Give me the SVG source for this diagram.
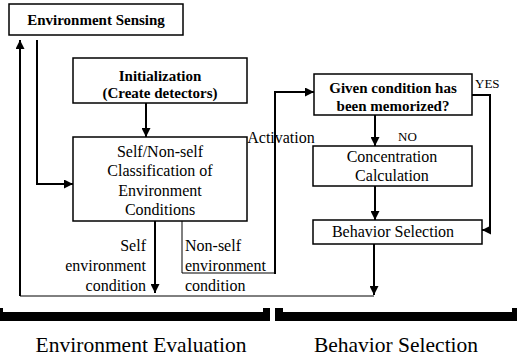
<svg xmlns="http://www.w3.org/2000/svg" width="517" height="360" viewBox="0 0 517 360">
<defs>
<marker id="ah" viewBox="0 0 10 10" refX="10" refY="5" markerWidth="9" markerHeight="9" markerUnits="userSpaceOnUse" orient="auto">
<path d="M0,0 L10,5 L0,10 z" fill="#000"/>
</marker>
</defs>
<style>
.box{fill:#fff;stroke:#000;stroke-width:1.5}
.t{font-family:"Liberation Serif","Times New Roman",serif;font-size:16px;fill:#000;text-anchor:middle}
.b{font-weight:bold;font-size:15px}
.s{font-size:13px;text-anchor:start}
.big{font-size:21.5px}
.ln{fill:none;stroke:#000;stroke-width:2}
.thin{fill:none;stroke:#000;stroke-width:1}
</style>
<rect width="517" height="360" fill="#fff"/>
<g id="connectors">
<path class="ln" d="M20,296 L20,40" marker-end="url(#ah)"/>
<path class="thin" d="M20,296 L374,296"/>
<path class="ln" d="M37,40 L37,184 L73,184" marker-end="url(#ah)"/>
<path class="ln" d="M146,103 L146,137" marker-end="url(#ah)"/>
<path class="ln" d="M155,221 L155,293" marker-end="url(#ah)"/>
<path class="thin" d="M182,221 L182,273 L275,273"/>
<path class="ln" d="M275,274 L275,92 L314,92" marker-end="url(#ah)"/>
<path class="ln" d="M472,95 L490,95 L490,230 L482,230" marker-end="url(#ah)"/>
<path class="ln" d="M375,115 L375,146" marker-end="url(#ah)"/>
<path class="ln" d="M375,186 L375,220" marker-end="url(#ah)"/>
<path class="ln" d="M374,244 L374,295" marker-end="url(#ah)"/>
</g>
<g id="sensing">
<rect class="box" x="9" y="4" width="174" height="31"/>
<text class="t b" x="96" y="25">Environment Sensing</text>
</g>
<g id="init">
<rect class="box" x="73" y="58" width="174" height="45"/>
<text class="t b" x="160" y="81">Initialization</text>
<text class="t b" x="160" y="98">(Create detectors)</text>
</g>
<g id="classify">
<rect class="box" x="73" y="137" width="174" height="84"/>
<text class="t" x="160" y="157">Self/Non-self</text>
<text class="t" x="160" y="176">Classification of</text>
<text class="t" x="160" y="196">Environment</text>
<text class="t" x="160" y="215">Conditions</text>
</g>
<g id="memorized">
<rect class="box" x="314" y="74" width="158" height="41"/>
<text class="t b" x="393" y="93">Given condition has</text>
<text class="t b" x="393" y="111">been memorized?</text>
</g>
<g id="concentration">
<rect class="box" x="313" y="146" width="159" height="40"/>
<text class="t" x="392" y="162">Concentration</text>
<text class="t" x="392" y="181">Calculation</text>
</g>
<g id="behavior">
<rect class="box" x="313" y="220" width="169" height="24"/>
<text class="t" x="393" y="237">Behavior Selection</text>
</g>
<g id="labels">
<text class="t" x="281" y="143">Activation</text>
<text class="t s" x="475" y="88">YES</text>
<text class="t s" x="398" y="141">NO</text>
<text class="t" x="146" y="251" text-anchor="end" style="text-anchor:end">Self</text>
<text class="t" x="146" y="271" style="text-anchor:end">environment</text>
<text class="t" x="146" y="291" style="text-anchor:end">condition</text>
<text class="t" x="185" y="251" style="text-anchor:start">Non-self</text>
<text class="t" x="185" y="271" style="text-anchor:start">environment</text>
<text class="t" x="185" y="291" style="text-anchor:start">condition</text>
</g>
<g id="brackets" fill="#000">
<rect x="0" y="312" width="270" height="9"/>
<rect x="0" y="308" width="3" height="13"/>
<rect x="263" y="308" width="7" height="13"/>
<rect x="275" y="312" width="242" height="9"/>
<rect x="275" y="308" width="8" height="13"/>
<rect x="512" y="308" width="5" height="13"/>
</g>
<g id="sections">
<text class="t big" x="141" y="352">Environment Evaluation</text>
<text class="t big" x="396" y="352">Behavior Selection</text>
</g>
</svg>
